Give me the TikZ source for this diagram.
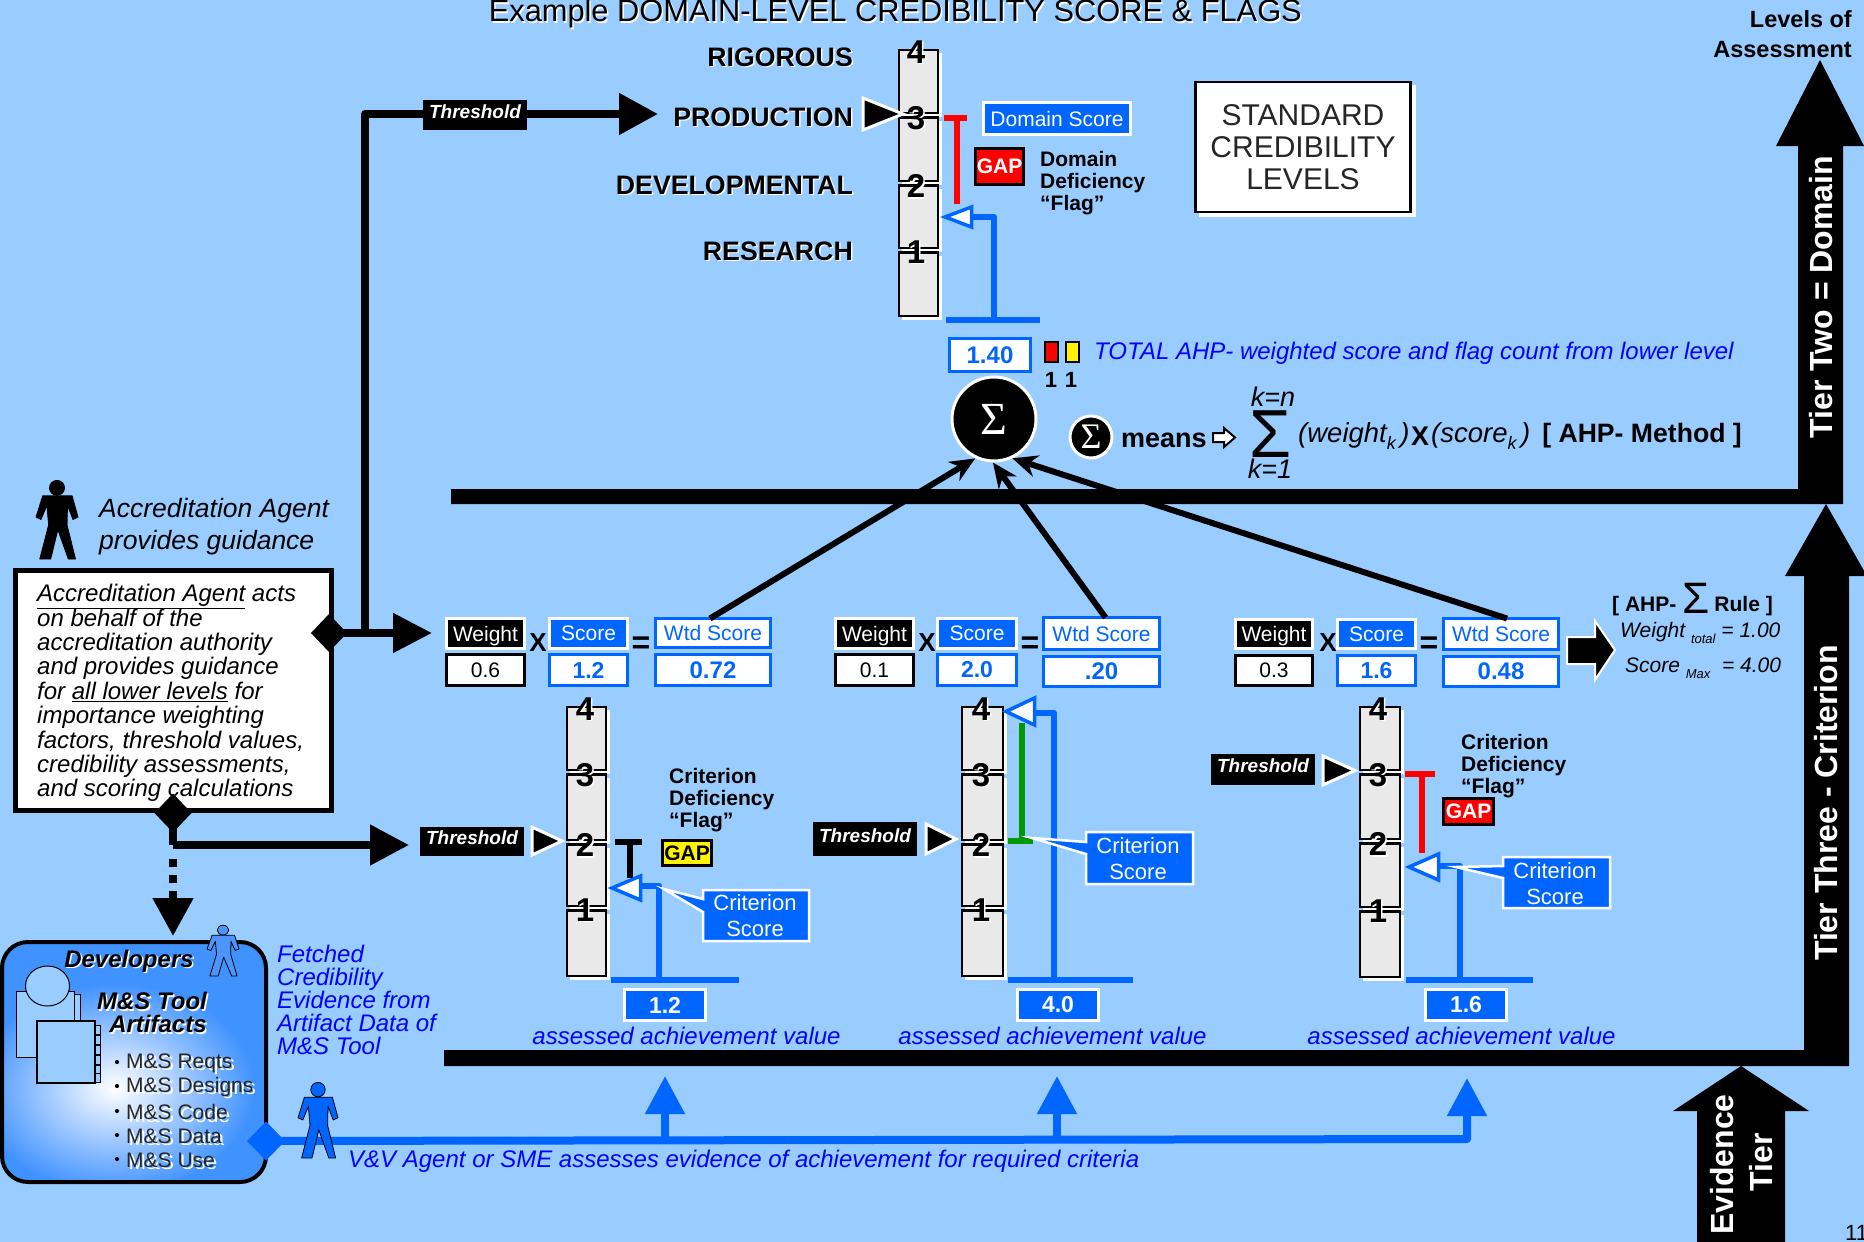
\documentclass[tikz,border=0pt]{standalone}
\usepackage{fontspec}
\setmainfont{Liberation Sans}
\newfontfamily\sigmafont{Liberation Serif}
\usepackage{graphicx}
\usetikzlibrary{arrows.meta,shapes.geometric,calc}
\definecolor{bgc}{HTML}{99CCFF}
\definecolor{bluef}{HTML}{0066FF}
\definecolor{bluet}{HTML}{0000FF}
\definecolor{barg}{HTML}{E9E9E9}
\definecolor{greenc}{HTML}{009900}
\definecolor{devb}{HTML}{4092FF}
\newcommand\fs[1]{\fontsize{#1}{#1}\selectfont}
\newcommand\fsl[2]{\fontsize{#1}{#2}\selectfont}
% text with a white drop shadow
\newcommand\stx[6]{%
 \node[anchor=#4,font={#5},text=white,inner sep=0,align=left] at (#2+1.5,#3+1.5) {#6};
 \node[anchor=#4,font={#5},text=black,inner sep=0,align=left] (#1) at (#2,#3) {#6};}
% text with a wider white drop shadow
\newcommand\stxw[6]{%
 \node[anchor=#4,font={#5},text=white,inner sep=0,align=left] at (#2+2.5,#3+2.5) {#6};
 \node[anchor=#4,font={#5},text=black!85,inner sep=0,align=left] (#1) at (#2,#3) {#6};}
% box given by outer bounds
\newcommand\tbox[7]{\node[boxn,#6,minimum width={(#4-#2-3)*1pt},minimum height={(#5-#3-3)*1pt}] (#1) at ({(#2+#4)/2},{(#3+#5)/2}) {#7};}
% score scale
\newcommand\scale[9]{%
 \foreach \ya/\yb in {#4/#5-2,#5+2.5/#6-2,#6+2.5/#7-2,#7+2.5/#8}{%
  \fill[white] (#2+3,\ya+3) rectangle (#3+4,\yb+4);
  \draw[black,fill=barg,line width=2.5pt] (#2,\ya) rectangle (#3,\yb);}
 \stx{#1n4}{#9}{#4+2}{center}{\fs{33}\bfseries}{4}
 \stx{#1n3}{#9}{#5+3}{center}{\fs{33}\bfseries}{3}
 \stx{#1n2}{#9}{#6+3}{center}{\fs{33}\bfseries}{2}
 \stx{#1n1}{#9}{#7+2}{center}{\fs{33}\bfseries}{1}}
% threshold pointer
\newcommand\thr[4]{\draw[white,fill=black,line width=3pt,miter limit=10] (#1+2,#3+4) -- (#1+2,#4-4) -- (#2-1,{(#3+#4)/2}) -- cycle;}
% score pointer
\newcommand\btri[4]{\draw[bluef,fill=white,line width=3.5pt,miter limit=10] (#1+4,{(#3+#4)/2}) -- (#2-1.5,#3+4) -- (#2-1.5,#4-4) -- cycle;}
% callout
\newcommand\callout[8]{\draw[white,fill=bluef,line width=2.5pt] (#1,#2) -- (#1,#7) -- (#5,#6) -- (#1,#8) -- (#1,#4) -- (#3,#4) -- (#3,#2) -- cycle;}
% person
\newcommand\person[6]{\begin{scope}[shift={(#1,#2)},x=#3pt,y=-#4pt]
 \draw[fill=#5,draw=#6,line width=.8pt] (.5,.1) ellipse [x radius=.18,y radius=.095];
 \draw[fill=#5,draw=#6,line width=.8pt,line join=round] (.16,.2) -- (.86,.2) -- (1,.47) -- (.88,.5) -- (.75,.32) -- (.74,.57) -- (.94,1) -- (.77,1) -- (.52,.63) -- (.35,1) -- (.09,1) -- (.3,.57) -- (.26,.32) -- (.12,.5) -- (0,.47) -- cycle;
 \end{scope}}
\tikzset{
 boxn/.style={rectangle,inner sep=0,outer sep=0},
 boxW/.style={fill=black,draw=white,line width=2.5pt,text=white,font=\fs{21},text depth=0pt},
 boxS/.style={fill=bluef,draw=white,line width=2.5pt,text=white,font=\fs{21},text depth=0pt},
 boxWtd/.style={fill=white,draw=bluef,line width=3.5pt,text=bluef,font=\fs{21},text depth=0pt},
 valK/.style={fill=white,draw=black,line width=3pt,text=black,font=\fs{21}},
 valB/.style={fill=white,draw=bluef,line width=3pt,text=bluef,font=\fs{23}\bfseries},
 valW/.style={fill=white,draw=bluef,line width=3.5pt,text=bluef,font=\fs{24}\bfseries},
 achv/.style={fill=bluef,draw=white,line width=3pt,text=white,font=\fs{23}\bfseries},
 gapR/.style={fill=red,draw=black,line width=3.5pt,text=white,font=\fs{21}\bfseries},
 gapY/.style={fill=yellow,draw=black,line width=3.5pt,text=black,font=\fs{21}\bfseries},
 thrbox/.style={fill=black,draw=black,line width=3pt,text=white,font=\fs{19}\bfseries\itshape,text depth=7pt},
 flagbox/.style={draw=black,line width=2.5pt},
 flagtxt/.style={font=\fsl{21}{22}\bfseries,align=left},
 calltxt/.style={font=\fsl{22}{26},text=white,align=center},
 achtxt/.style={font=\fs{24}\itshape,text=bluet},
 oplabel/.style={font=\fs{26}\bfseries},
 eqlabel/.style={font=\fs{32}\bfseries},
 heavy/.style={line width=8pt,line join=round},
 blueln/.style={bluef,line width=6.5pt,line join=round},
 bluebase/.style={bluef,line width=6pt},
 blarrow/.style={bluef,line width=8pt,-{Triangle[length=38pt,width=38pt]}},
 sumarrow/.style={line width=6pt,-{Stealth[length=25pt,width=22pt]},shorten >=2pt},
 tiertxt/.style={font=\fs{32}\bfseries,text=white,rotate=90,inner sep=0},
 tierk/.style={fill=black},
 dmd/.style={diamond,aspect=1,inner sep=0,outer sep=0},
}
\begin{document}
\begin{tikzpicture}[x=1pt,y=-1pt]
\useasboundingbox (0,0) rectangle (1864,1242);
\fill[bgc] (0,0) rectangle (1864,1242);

% Title and tier arrows
\stx{title}{1302}{14}{east}{\fs{30.8}}{Example DOMAIN-LEVEL CREDIBILITY SCORE \& FLAGS}
\node[anchor=north east,font=\fsl{23.5}{30}\bfseries,align=right,inner sep=0] (levels) at (1852,10) {Levels of\\Assessment};

\fill[tierk] (1820,60) -- (1864,146) -- (1843,146) -- (1843,504) -- (451,504) -- (451,489) -- (1798,489) -- (1798,146) -- (1776,146) -- cycle;
\node[tiertxt] (t2) at (1821,297) {Tier Two = Domain};
\fill[tierk] (1826,504) -- (1867,576) -- (1849,576) -- (1849,1066) -- (444,1066) -- (444,1050) -- (1804,1050) -- (1804,576) -- (1785,576) -- cycle;
\node[tiertxt] (t3) at (1826,803) {Tier Three - Criterion};
\fill[tierk] (1741,1066) -- (1809,1111) -- (1785,1111) -- (1785,1242) -- (1697,1242) -- (1697,1111) -- (1673,1111) -- cycle;
\node[tiertxt,anchor=west] (t1a) at (1722,1235) {Evidence};
\node[tiertxt,anchor=east] (t1b) at (1761,1133) {Tier};
\node[anchor=west,font=\fs{22},inner sep=0] (pageno) at (1845,1233) {11};

% Domain level
\scale{dom}{899}{938}{50}{115}{183}{250}{316}{916}
\stx{lr}{853}{57}{east}{\fs{26.7}\bfseries}{RIGOROUS}
\stx{lp}{853}{117}{east}{\fs{26.7}\bfseries}{PRODUCTION}
\stx{ld}{853}{185}{east}{\fs{26.7}\bfseries}{DEVELOPMENTAL}
\stx{lre}{853}{251}{east}{\fs{26.7}\bfseries}{RESEARCH}
\thr{861}{904}{94}{134}
\draw[red,line width=6pt] (957,118) -- (957,204);
\draw[red,line width=6pt] (944,118) -- (967,118);
\coordinate (dfoot) at (994,320);
\coordinate (dtri) at (973,217);
\draw[blueln] (dtri) -| (dfoot);
\btri{941}{973}{203}{231}
\draw[bluebase] (946,320) -- (1040,320);
\tbox{domscore}{982}{101}{1132}{136}{boxS}{Domain Score}
\tbox{domgap}{974}{147}{1025}{186}{gapR}{GAP}
\node[flagtxt,anchor=west,inner sep=0] (domflag) at (1040,183) {Domain\\Deficiency\\“Flag”};
\fill[white] (1199,85) rectangle (1416,217);
\node[boxn,draw=black,fill=white,line width=2.5pt,minimum width=215pt,minimum height=130pt,font=\fsl{30}{32},align=center,text=black!85] (std) at (1303,147) {STANDARD\\CREDIBILITY\\LEVELS};

\tbox{tot}{948}{337}{1032}{373}{valW}{1.40}
\draw[flagbox,fill=red] (1045,342) rectangle (1058,362);
\draw[flagbox,fill=yellow] (1066,342) rectangle (1079,362);
\node[font=\fs{22}\bfseries,inner sep=0] (c1) at (1051,380) {1};
\node[font=\fs{22}\bfseries,inner sep=0] (c2) at (1071,380) {1};
\node[anchor=west,font=\fs{24}\itshape,text=bluet,inner sep=0] (totaltxt) at (1094,353) {TOTAL AHP- weighted score and flag count from lower level};

\node[circle,fill=black,draw=white,line width=3pt,minimum size=84pt,inner sep=0,outer sep=0,text=white,font=\fs{46}\sigmafont] (sum) at (994,419) {\raisebox{-3pt}{Σ}};
\node[circle,fill=black,draw=white,line width=3pt,minimum size=42pt,inner sep=0,outer sep=0,text=white,font=\fs{36}\sigmafont] (sums) at (1091,437) {\raisebox{-2pt}{Σ}};
\node[anchor=west,font=\fs{27}\bfseries,inner sep=0] (means) at (1121,440) {means};
\draw[fill=white,line width=2pt] (1213,433) -- (1224,433) -- (1224,428) -- (1235,437.5) -- (1224,447) -- (1224,442) -- (1213,442) -- cycle;
\node[font=\fs{27}\itshape,inner sep=0] (kn) at (1273,397) {k=n};
\node[font=\fs{68},inner sep=0] (bigs) at (1271,434) {Σ};
\node[font=\fs{27}\itshape,inner sep=0] (k1) at (1270,469) {k=1};
\node[anchor=west,font=\fs{27.5}\itshape,inner sep=0] (wk) at (1298,436) {(weight\raisebox{-7pt}{\fs{18}k}\,)};
\node[font=\fs{27}\bfseries,inner sep=0] (xk) at (1420,436) {X};
\node[anchor=west,font=\fs{27.5}\itshape,inner sep=0] (sk) at (1431,436) {(score\raisebox{-7pt}{\fs{18}k}\,)};
\node[anchor=east,font=\fs{26.6}\bfseries,inner sep=0] (meth) at (1742,436) {[ AHP- Method ]};

% Accreditation agent
\person{36}{480}{42}{79}{black}{black}
\node[anchor=west,font=\fsl{26.5}{32}\itshape,align=left,inner sep=0] (agentt) at (99,527) {Accreditation Agent\\provides guidance};
\node[boxn,draw=black,fill=white,line width=5pt,minimum width=316pt,minimum height=240pt] (agentbox) at (173.5,690.5) {};
\node[anchor=west,font=\fsl{24}{24.4}\itshape,align=left,inner sep=0] (agentbody) at (37,693) {\underline{Accreditation Agent} acts\\on behalf of the\\accreditation authority\\and provides guidance\\for \underline{all lower levels} for\\importance weighting\\factors, threshold values,\\credibility assessments,\\and scoring calculations};

\node[dmd,fill=black,minimum width=36pt,minimum height=38pt] (dR) at (329,633) {};
\node[dmd,fill=black,minimum width=37pt,minimum height=39pt] (dB) at (173,813) {};
\coordinate (rowin) at (432,633);
\coordinate (jtop) at (365,633);
\coordinate (topin) at (658,114);
\coordinate (jbr) at (173,845);
\coordinate (thrin) at (409,845);
\coordinate (dstart) at (173,859);
\coordinate (dvtop) at (173,936);
\draw[heavy,-{Triangle[length=39pt,width=38pt]}] (dR.center) -- (rowin);
\draw[heavy,-{Triangle[length=39pt,width=40pt]}] (jtop) |- (topin);
\draw[heavy] (dB.center) -- (jbr);
\draw[heavy,-{Triangle[length=39pt,width=39pt]}] (jbr) -- (thrin);
\draw[heavy,dash pattern=on 8pt off 8pt,-{Triangle[length=38pt,width=39pt]}] (dstart) -- (dvtop);
\tbox{thtop}{423}{100}{527}{130}{thrbox}{Threshold}

% Rows of weights and scores
\tbox{w1}{445}{617}{526}{650}{boxW}{Weight}
\tbox{v1}{445}{653}{526}{687}{valK}{0.6}
\tbox{s1}{548}{617}{629}{650}{boxS}{Score}
\tbox{sv1}{548}{653}{629}{687}{valB}{1.2}
\tbox{wtd1}{654}{617}{772}{649}{boxWtd}{Wtd Score}
\tbox{wv1}{654}{653}{772}{687}{valW}{0.72}
\node[oplabel] (x1) at (538,643) {X};
\node[eqlabel] (e1) at (641,645) {=};

\tbox{w2}{834}{617}{915}{650}{boxW}{Weight}
\tbox{v2}{834}{653}{915}{687}{valK}{0.1}
\tbox{s2}{936}{617}{1018}{650}{boxS}{Score}
\tbox{sv2}{936}{653}{1018}{687}{valB}{2.0}
\tbox{wtd2}{1042}{616}{1161}{651}{boxWtd}{Wtd Score}
\tbox{wv2}{1042}{655}{1161}{688}{valW}{.20}
\node[oplabel] (x2) at (927,643) {X};
\node[eqlabel] (e2) at (1030,645) {=};

\tbox{w3}{1234}{618}{1314}{650}{boxW}{Weight}
\tbox{v3}{1234}{654}{1314}{687}{valK}{0.3}
\tbox{s3}{1336}{618}{1417}{650}{boxS}{Score}
\tbox{sv3}{1336}{654}{1417}{687}{valB}{1.6}
\tbox{wtd3}{1442}{617}{1560}{651}{boxWtd}{Wtd Score}
\tbox{wv3}{1442}{655}{1560}{688}{valW}{0.48}
\node[oplabel] (x3) at (1328,643) {X};
\node[eqlabel] (e3) at (1429,645) {=};

\draw[sumarrow] ([xshift=-3pt]wtd1.north) -- (sum.-114);
\draw[sumarrow] ([xshift=4pt]wtd2.north) -- (sum.-93);
\draw[sumarrow] ([xshift=6pt]wtd3.north) -- (sum.-67);

\draw[white,fill=black,line width=2pt] (1567,637) -- (1595,637) -- (1595,621) -- (1615,650) -- (1595,680) -- (1595,664) -- (1567,664) -- cycle;
\node[anchor=west,font=\fs{21}\bfseries,inner sep=0] (ruleA) at (1612,606) {[ AHP-};
\node[font=\fs{44},inner sep=0] (ruleS) at (1696,598) {Σ};
\node[anchor=east,font=\fs{21}\bfseries,inner sep=0] (ruleB) at (1773,606) {Rule ]};
\node[anchor=west,font=\fs{21}\itshape,inner sep=0] (rw) at (1620,633) {Weight \raisebox{-6pt}{\fs{13}total} = 1.00};
\node[anchor=west,font=\fs{21}\itshape,inner sep=0] (rs) at (1625,668) {Score \raisebox{-6pt}{\fs{13}Max}\ \ = 4.00};

% Criterion 1
\scale{c1s}{567}{606}{707}{772}{842}{908}{976}{585}
\tbox{th1}{420}{827}{524}{856}{thrbox}{Threshold}
\thr{530}{563}{823}{859}
\draw[black,line width=6pt] (630,842) -- (630,878);
\draw[black,line width=6pt] (615,842) -- (642,842);
\coordinate (c1tri) at (642,886);
\coordinate (c1foot) at (659,980);
\draw[blueln] (c1tri) -| (c1foot);
\btri{608}{642}{872}{904}
\draw[bluebase] (611,980) -- (739,980);
\tbox{gap1}{661}{839}{713}{867}{gapY}{GAP}
\node[flagtxt,anchor=west,inner sep=0] (fl1) at (669,800) {Criterion\\Deficiency\\“Flag”};
\callout{703}{890}{809}{941}{664}{889}{899}{912}
\node[calltxt] (ct1) at (755,916) {Criterion\\Score};
\tbox{a1}{623}{988}{707}{1022}{achv}{1.2}
\node[achtxt,inner sep=0] (at1) at (686.5,1036) {assessed achievement value};

% Criterion 2
\scale{c2s}{962}{1003}{707}{772}{842}{908}{976}{981}
\tbox{th2}{813}{822}{917}{856}{thrbox}{Threshold}
\thr{924}{957}{820}{858}
\coordinate (c2tri) at (1036,713);
\coordinate (c2foot) at (1054,980);
\draw[blueln] (c2tri) -| (c2foot);
\draw[greenc,line width=6pt] (1022,723) -- (1022,841);
\draw[greenc,line width=6pt] (1008,841) -- (1033,841);
\btri{1002}{1036}{694}{729}
\draw[bluebase] (1008,980) -- (1133,980);
\callout{1086}{832}{1193}{884}{1032}{838}{842}{854}
\node[calltxt] (ct2) at (1138,859) {Criterion\\Score};
\tbox{a2}{1016}{988}{1100}{1022}{achv}{4.0}
\node[achtxt,inner sep=0] (at2) at (1052.5,1036) {assessed achievement value};

% Criterion 3
\scale{c3s}{1360}{1400}{707}{772}{841}{909}{977}{1378}
\tbox{th3}{1211}{754}{1315}{785}{thrbox}{Threshold}
\thr{1321}{1356}{752}{789}
\draw[red,line width=6pt] (1422,774) -- (1422,853);
\draw[red,line width=6pt] (1405,774) -- (1435,774);
\coordinate (c3tri) at (1440,866);
\coordinate (c3foot) at (1460,980);
\draw[blueln] (c3tri) -| (c3foot);
\btri{1405}{1440}{850}{884}
\draw[bluebase] (1406,980) -- (1533,980);
\tbox{gap3}{1442}{797}{1495}{826}{gapR}{GAP}
\node[flagtxt,anchor=west,inner sep=0] (fl3) at (1461,766) {Criterion\\Deficiency\\“Flag”};
\callout{1503}{857}{1610}{908}{1456}{867}{866}{878}
\node[calltxt] (ct3) at (1555,884) {Criterion\\Score};
\tbox{a3}{1424}{988}{1508}{1022}{achv}{1.6}
\node[achtxt,inner sep=0] (at3) at (1461.5,1036) {assessed achievement value};

% Developers
\begin{scope}
\clip[rounded corners=26pt] (2,942) rectangle (266,1182);
\fill[devb] (2,942) rectangle (266,1182);
\shade[inner color=white,outer color=devb] (115,1088) ellipse [x radius=140,y radius=105];
\end{scope}
\draw[black,line width=4pt,rounded corners=26pt] (2,942) rectangle (266,1182);
\draw[black,fill=bgc,line width=1pt] (16,991) rectangle (74,1057);
\draw[black,fill=bgc,line width=.8pt] (74,994) rectangle (80,1025);
\draw[black,fill=bgc,line width=1pt] (47.5,986) ellipse [x radius=22,y radius=20];
\draw[black,fill=bgc,line width=1.2pt] (37,1021) rectangle (95,1083);
\foreach \yy in {1025,1035,1045,1055,1065,1073}{\draw[black,fill=bgc,line width=.6pt] (95,\yy) rectangle (100,\yy+9);}
\draw[black,line width=.8pt] (39,1020) -- (95,1020);
\stx{devt}{129}{961}{center}{\fs{24}\bfseries\itshape}{Developers}
\stx{mst}{152}{1001}{center}{\fs{24}\bfseries\itshape}{M\&S Tool}
\stx{art}{158}{1024}{center}{\fs{24}\bfseries\itshape}{Artifacts}
\stxw{ls1}{126}{1063}{west}{\fs{21}}{M\&S Reqts}
\stxw{ls2}{126}{1087}{west}{\fs{21}}{M\&S Designs}
\stxw{ls3}{126}{1112}{west}{\fs{21}}{M\&S Code}
\stxw{ls4}{126}{1136}{west}{\fs{21}}{M\&S Data}
\stxw{ls5}{126}{1160}{west}{\fs{21}}{M\&S Use}
\foreach \yy in {1062,1086,1111,1135,1159}{\fill[black] (117,\yy) circle (2.1);}
\person{207}{925}{32}{51}{bluef!70!white}{black}
\node[anchor=north west,font=\fsl{24}{23}\itshape,text=bluet,align=left,inner sep=0] (fetched) at (277,945) {Fetched\\Credibility\\Evidence from\\Artifact Data of\\M\&S Tool};

% V&V agent line
\node[dmd,fill=bluef,minimum width=38pt,minimum height=39pt] (dV) at (266,1141) {};
\coordinate (vend) at (1467,1139);
\coordinate (j1) at (665,1140);
\coordinate (j2) at (1057,1139);
\coordinate (tip1) at (665,1076);
\coordinate (tip2) at (1057,1076);
\coordinate (tip3) at (1467,1078);
\draw[bluef,line width=8pt,line join=round,-{Triangle[length=38pt,width=38pt]}] (dV.center) -- (vend) -- (tip3);
\draw[blarrow] (j1) -- (tip1);
\draw[blarrow] (j2) -- (tip2);
\person{298}{1082}{40}{76}{bluef}{black}
\node[anchor=west,font=\fs{24}\itshape,text=bluet,inner sep=0] (vv) at (348,1161) {V\&V Agent or SME assesses evidence of achievement for required criteria};
\end{tikzpicture}
\end{document}
